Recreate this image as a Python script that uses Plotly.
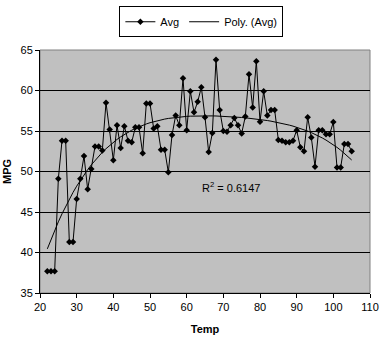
import numpy as np
import plotly.graph_objects as go

temp = list(range(22, 106))
avg = [37.7, 37.7, 37.7, 49.1, 53.8, 53.8, 41.3, 41.3, 46.6, 49.1,
       51.9, 47.8, 50.3, 53.1, 53.1, 52.6, 58.5, 55.2, 51.4, 55.7,
       52.9, 55.6, 53.8, 53.6, 55.45, 55.45, 52.25, 58.4, 58.4, 55.3,
       55.6, 52.7, 52.7, 49.9, 54.5, 56.9, 55.7, 61.5, 55.1, 59.9,
       57.3, 58.6, 60.4, 56.7, 52.4, 54.75, 63.8, 57.6, 55.0, 54.9,
       55.7, 56.6, 55.7, 54.7, 56.8, 62.0, 57.9, 63.6, 56.15, 59.9,
       56.9, 57.6, 57.6, 53.9, 53.8, 53.6, 53.6, 53.8, 55.1, 53.0,
       52.5, 56.7, 54.2, 50.6, 55.1, 55.1, 54.6, 54.6, 56.1, 50.5,
       50.5, 53.4, 53.4, 52.5]
x_ticks = [20, 30, 40, 50, 60, 70, 80, 90, 100, 110]
y_ticks = [35, 40, 45, 50, 55, 60, 65]

# Excel-style polynomial trendline (order 4) fitted to the data
xa = np.array(temp, dtype=float)
ya = np.array(avg)
coef = np.polyfit(xa, ya, 4)
fit = np.polyval(coef, xa)

font = "Liberation Sans, Arial, sans-serif"
fig = go.Figure()
fig.add_trace(go.Scatter(x=temp, y=avg, mode="lines+markers", name="Avg",
                         line=dict(color="black", width=1),
                         marker=dict(symbol="diamond", size=5, color="black")))
fig.add_trace(go.Scatter(x=temp, y=fit, mode="lines", name="Poly. (Avg)",
                         line=dict(color="black", width=1)))
fig.add_shape(type="rect", xref="paper", yref="paper", x0=0, y0=0, x1=1, y1=1,
              line=dict(color="#808080", width=1), layer="below")
fig.add_annotation(x=63.5, y=48.1, text="R<sup>2</sup> = 0.6147", showarrow=False,
                   xanchor="left", font=dict(family=font, size=11, color="black"))
fig.update_layout(
    width=381, height=356,
    margin=dict(l=40, r=11, t=50, b=63, autoexpand=False),
    paper_bgcolor="white", plot_bgcolor="#C0C0C0",
    font=dict(family=font, size=11, color="black"),
    showlegend=True,
    legend=dict(orientation="h", x=0.489, xanchor="center", y=1.18, yanchor="top",
                bordercolor="black", borderwidth=1, bgcolor="white",
                font=dict(family=font, size=11), itemwidth=30,
                tracegroupgap=0),
    xaxis=dict(range=[20, 110], tickvals=x_ticks, showgrid=False, zeroline=False,
               showline=True, linecolor="black", linewidth=1, automargin=False,
               ticks="outside", ticklen=4, tickcolor="black",
               title=dict(text="<b>Temp</b>", font=dict(family=font, size=11), standoff=13)),
    yaxis=dict(range=[35, 65], tickvals=y_ticks, showgrid=True, gridcolor="black", gridwidth=1,
               zeroline=False, showline=True, linecolor="black", linewidth=1, automargin=False,
               ticks="outside", ticklen=4, tickcolor="black",
               title=dict(text="<b>MPG</b>", font=dict(family=font, size=11), standoff=6)),
)
fig.write_html("out.html", config={"displayModeBar": False},
               post_script="document.body.style.margin='0';")
